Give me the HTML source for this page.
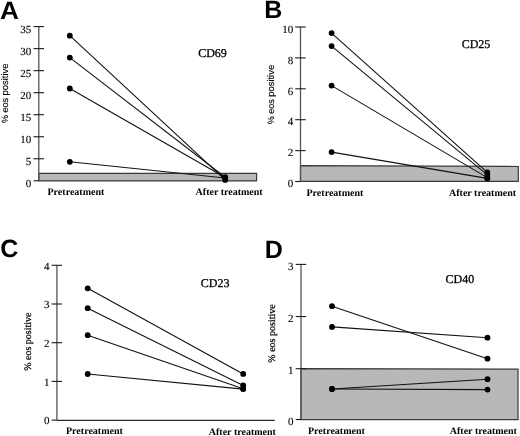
<!DOCTYPE html>
<html><head><meta charset="utf-8"><style>
html,body{margin:0;padding:0;background:#fff;}
body{width:520px;height:436px;overflow:hidden;}
svg{display:block;will-change:transform;}
text{text-rendering:geometricPrecision;}
.tk{font-family:"Liberation Serif",serif;font-size:11px;fill:#000;stroke:#000;stroke-width:0.12px;}
.let{font-family:"Liberation Sans",sans-serif;font-weight:bold;font-size:25px;fill:#000;}
.cd{font-family:"Liberation Serif",serif;font-size:12px;fill:#000;stroke:#000;stroke-width:0.3px;}
.xl{font-family:"Liberation Serif",serif;font-weight:bold;font-size:10px;fill:#000;}
.yls{font-family:"Liberation Sans",sans-serif;font-size:9px;fill:#000;stroke:#000;stroke-width:0.15px;}
.ylt{font-family:"Liberation Serif",serif;font-size:10px;fill:#000;stroke:#000;stroke-width:0.25px;}
</style></head><body>
<svg width="520" height="436" viewBox="0 0 520 436">
<path d="M38.8 180.9L38.8 173.4L256.6 173.4L256.6 180.9Z" fill="#b8b8b8" stroke="#3a3a3a" stroke-width="1.2" stroke-linejoin="miter"/>
<line x1="38.80" y1="26.59" x2="38.80" y2="180.80" stroke="#555" stroke-width="1.3" />
<line x1="33.50" y1="180.80" x2="38.80" y2="180.80" stroke="#1a1a1a" stroke-width="1.1" />
<text x="31.2" y="187.1" class="tk" text-anchor="end" >0</text>
<line x1="33.50" y1="158.77" x2="44.00" y2="158.77" stroke="#1a1a1a" stroke-width="1.1" />
<text x="31.2" y="165.07" class="tk" text-anchor="end" >5</text>
<line x1="33.50" y1="136.74" x2="44.00" y2="136.74" stroke="#1a1a1a" stroke-width="1.1" />
<text x="31.2" y="143.04" class="tk" text-anchor="end" >10</text>
<line x1="33.50" y1="114.71" x2="44.00" y2="114.71" stroke="#1a1a1a" stroke-width="1.1" />
<text x="31.2" y="121.01" class="tk" text-anchor="end" >15</text>
<line x1="33.50" y1="92.68" x2="44.00" y2="92.68" stroke="#1a1a1a" stroke-width="1.1" />
<text x="31.2" y="98.98" class="tk" text-anchor="end" >20</text>
<line x1="33.50" y1="70.65" x2="44.00" y2="70.65" stroke="#1a1a1a" stroke-width="1.1" />
<text x="31.2" y="76.95" class="tk" text-anchor="end" >25</text>
<line x1="33.50" y1="48.62" x2="44.00" y2="48.62" stroke="#1a1a1a" stroke-width="1.1" />
<text x="31.2" y="54.92" class="tk" text-anchor="end" >30</text>
<line x1="33.50" y1="26.59" x2="44.00" y2="26.59" stroke="#1a1a1a" stroke-width="1.1" />
<text x="31.2" y="32.89" class="tk" text-anchor="end" >35</text>
<line x1="69.80" y1="35.70" x2="225.20" y2="179.90" stroke="#111" stroke-width="1.1" />
<line x1="69.80" y1="57.60" x2="225.20" y2="177.20" stroke="#111" stroke-width="1.1" />
<line x1="69.80" y1="88.50" x2="225.20" y2="177.60" stroke="#111" stroke-width="1.1" />
<line x1="69.80" y1="161.80" x2="225.20" y2="178.00" stroke="#111" stroke-width="1.1" />
<circle cx="69.80" cy="35.70" r="2.9" fill="#000"/>
<circle cx="225.20" cy="179.90" r="2.9" fill="#000"/>
<circle cx="69.80" cy="57.60" r="2.9" fill="#000"/>
<circle cx="225.20" cy="177.20" r="2.9" fill="#000"/>
<circle cx="69.80" cy="88.50" r="2.9" fill="#000"/>
<circle cx="225.20" cy="177.60" r="2.9" fill="#000"/>
<circle cx="69.80" cy="161.80" r="2.9" fill="#000"/>
<circle cx="225.20" cy="178.00" r="2.9" fill="#000"/>
<path d="M300.5 181.3L300.5 165.6L518.3 166.5L518.3 181.4Z" fill="#b8b8b8" stroke="#3a3a3a" stroke-width="1.2" stroke-linejoin="miter"/>
<line x1="300.50" y1="27.00" x2="300.50" y2="181.50" stroke="#555" stroke-width="1.3" />
<line x1="295.20" y1="181.50" x2="300.50" y2="181.50" stroke="#1a1a1a" stroke-width="1.1" />
<text x="293.2" y="187.2" class="tk" text-anchor="end" >0</text>
<line x1="295.20" y1="150.60" x2="305.70" y2="150.60" stroke="#1a1a1a" stroke-width="1.1" />
<text x="293.2" y="156.3" class="tk" text-anchor="end" >2</text>
<line x1="295.20" y1="119.70" x2="305.70" y2="119.70" stroke="#1a1a1a" stroke-width="1.1" />
<text x="293.2" y="125.4" class="tk" text-anchor="end" >4</text>
<line x1="295.20" y1="88.80" x2="305.70" y2="88.80" stroke="#1a1a1a" stroke-width="1.1" />
<text x="293.2" y="94.5" class="tk" text-anchor="end" >6</text>
<line x1="295.20" y1="57.90" x2="305.70" y2="57.90" stroke="#1a1a1a" stroke-width="1.1" />
<text x="293.2" y="63.6" class="tk" text-anchor="end" >8</text>
<line x1="295.20" y1="27.00" x2="305.70" y2="27.00" stroke="#1a1a1a" stroke-width="1.1" />
<text x="293.2" y="32.7" class="tk" text-anchor="end" >10</text>
<line x1="331.60" y1="33.10" x2="487.30" y2="172.30" stroke="#111" stroke-width="1.1" />
<line x1="331.60" y1="46.10" x2="487.30" y2="174.80" stroke="#111" stroke-width="1.1" />
<line x1="331.60" y1="85.60" x2="487.30" y2="177.60" stroke="#111" stroke-width="1.1" />
<line x1="331.60" y1="152.10" x2="487.30" y2="178.40" stroke="#111" stroke-width="1.1" />
<circle cx="331.60" cy="33.10" r="2.9" fill="#000"/>
<circle cx="487.30" cy="172.30" r="2.9" fill="#000"/>
<circle cx="331.60" cy="46.10" r="2.9" fill="#000"/>
<circle cx="487.30" cy="174.80" r="2.9" fill="#000"/>
<circle cx="331.60" cy="85.60" r="2.9" fill="#000"/>
<circle cx="487.30" cy="177.60" r="2.9" fill="#000"/>
<circle cx="331.60" cy="152.10" r="2.9" fill="#000"/>
<circle cx="487.30" cy="178.40" r="2.9" fill="#000"/>
<line x1="56.90" y1="420.40" x2="274.80" y2="420.40" stroke="#2a2a2a" stroke-width="1.2" />
<line x1="56.90" y1="265.30" x2="56.90" y2="420.10" stroke="#555" stroke-width="1.3" />
<line x1="51.60" y1="420.10" x2="56.90" y2="420.10" stroke="#1a1a1a" stroke-width="1.1" />
<text x="49.4" y="424.4" class="tk" text-anchor="end" >0</text>
<line x1="51.60" y1="381.40" x2="62.10" y2="381.40" stroke="#1a1a1a" stroke-width="1.1" />
<text x="49.4" y="385.7" class="tk" text-anchor="end" >1</text>
<line x1="51.60" y1="342.70" x2="62.10" y2="342.70" stroke="#1a1a1a" stroke-width="1.1" />
<text x="49.4" y="347.0" class="tk" text-anchor="end" >2</text>
<line x1="51.60" y1="304.00" x2="62.10" y2="304.00" stroke="#1a1a1a" stroke-width="1.1" />
<text x="49.4" y="308.3" class="tk" text-anchor="end" >3</text>
<line x1="51.60" y1="265.30" x2="62.10" y2="265.30" stroke="#1a1a1a" stroke-width="1.1" />
<text x="49.4" y="269.6" class="tk" text-anchor="end" >4</text>
<line x1="87.70" y1="288.30" x2="243.20" y2="373.90" stroke="#111" stroke-width="1.1" />
<line x1="87.70" y1="308.20" x2="243.20" y2="385.50" stroke="#111" stroke-width="1.1" />
<line x1="87.70" y1="335.20" x2="243.20" y2="388.80" stroke="#111" stroke-width="1.1" />
<line x1="87.70" y1="374.00" x2="243.20" y2="389.10" stroke="#111" stroke-width="1.1" />
<circle cx="87.70" cy="288.30" r="2.9" fill="#000"/>
<circle cx="243.20" cy="373.90" r="2.9" fill="#000"/>
<circle cx="87.70" cy="308.20" r="2.9" fill="#000"/>
<circle cx="243.20" cy="385.50" r="2.9" fill="#000"/>
<circle cx="87.70" cy="335.20" r="2.9" fill="#000"/>
<circle cx="243.20" cy="388.80" r="2.9" fill="#000"/>
<circle cx="87.70" cy="374.00" r="2.9" fill="#000"/>
<circle cx="243.20" cy="389.10" r="2.9" fill="#000"/>
<path d="M301 419.6L301 368.6L518 369.1L518 419.6Z" fill="#b8b8b8" stroke="#3a3a3a" stroke-width="1.2" stroke-linejoin="miter"/>
<line x1="301.00" y1="264.40" x2="301.00" y2="419.50" stroke="#555" stroke-width="1.3" />
<line x1="295.70" y1="419.50" x2="301.00" y2="419.50" stroke="#1a1a1a" stroke-width="1.1" />
<text x="293.6" y="425.1" class="tk" text-anchor="end" >0</text>
<line x1="295.70" y1="368.70" x2="306.20" y2="368.70" stroke="#1a1a1a" stroke-width="1.1" />
<text x="293.6" y="374.3" class="tk" text-anchor="end" >1</text>
<line x1="295.70" y1="316.55" x2="306.20" y2="316.55" stroke="#1a1a1a" stroke-width="1.1" />
<text x="293.6" y="322.15" class="tk" text-anchor="end" >2</text>
<line x1="295.70" y1="264.40" x2="306.20" y2="264.40" stroke="#1a1a1a" stroke-width="1.1" />
<text x="293.6" y="270.0" class="tk" text-anchor="end" >3</text>
<line x1="332.00" y1="306.20" x2="487.50" y2="358.70" stroke="#111" stroke-width="1.1" />
<line x1="332.00" y1="326.90" x2="487.50" y2="337.70" stroke="#111" stroke-width="1.1" />
<line x1="332.00" y1="389.00" x2="487.50" y2="379.20" stroke="#111" stroke-width="1.1" />
<line x1="332.00" y1="389.00" x2="487.50" y2="389.60" stroke="#111" stroke-width="1.1" />
<circle cx="332.00" cy="306.20" r="2.9" fill="#000"/>
<circle cx="487.50" cy="358.70" r="2.9" fill="#000"/>
<circle cx="332.00" cy="326.90" r="2.9" fill="#000"/>
<circle cx="487.50" cy="337.70" r="2.9" fill="#000"/>
<circle cx="332.00" cy="389.00" r="2.9" fill="#000"/>
<circle cx="487.50" cy="379.20" r="2.9" fill="#000"/>
<circle cx="332.00" cy="389.00" r="2.9" fill="#000"/>
<circle cx="487.50" cy="389.60" r="2.9" fill="#000"/>
<text x="0" y="0" class="let" text-anchor="start" transform="translate(0,18.6) scale(1.05,1)">A</text>
<text x="264.3" y="17.9" class="let" text-anchor="start" >B</text>
<text x="0.2" y="257.1" class="let" text-anchor="start" >C</text>
<text x="264.8" y="257.5" class="let" text-anchor="start" >D</text>
<text x="198.2" y="57.3" class="cd" text-anchor="start" >CD69</text>
<text x="461.7" y="48.1" class="cd" text-anchor="start" >CD25</text>
<text x="200.8" y="287.3" class="cd" text-anchor="start" >CD23</text>
<text x="445.6" y="283.2" class="cd" text-anchor="start" >CD40</text>
<text x="47.5" y="195.3" class="xl" text-anchor="start" >Pretreatment</text>
<text x="195.6" y="195.4" class="xl" text-anchor="start" >After treatment</text>
<text x="306.5" y="195.5" class="xl" text-anchor="start" >Pretreatment</text>
<text x="449.0" y="195.8" class="xl" text-anchor="start" >After treatment</text>
<text x="66.0" y="434.2" class="xl" text-anchor="start" >Pretreatment</text>
<text x="208.8" y="434.6" class="xl" text-anchor="start" >After treatment</text>
<text x="308.0" y="434.3" class="xl" text-anchor="start" >Pretreatment</text>
<text x="449.8" y="434.2" class="xl" text-anchor="start" >After treatment</text>
<text x="0" y="0" class="yls" text-anchor="start" transform="translate(8.3,122.9) rotate(-90)">% eos <tspan style="font-size:9.4px">positive</tspan></text>
<text x="0" y="0" class="yls" text-anchor="start" transform="translate(273.5,124.2) rotate(-90)">% eos <tspan style="font-size:9.4px">positive</tspan></text>
<text x="0" y="0" class="ylt" text-anchor="middle" transform="translate(30.6,341.7) rotate(-90)">% eos positive</text>
<text x="0" y="0" class="ylt" text-anchor="middle" transform="translate(275.4,333.5) rotate(-90)">% eos positive</text>
</svg>
</body></html>
